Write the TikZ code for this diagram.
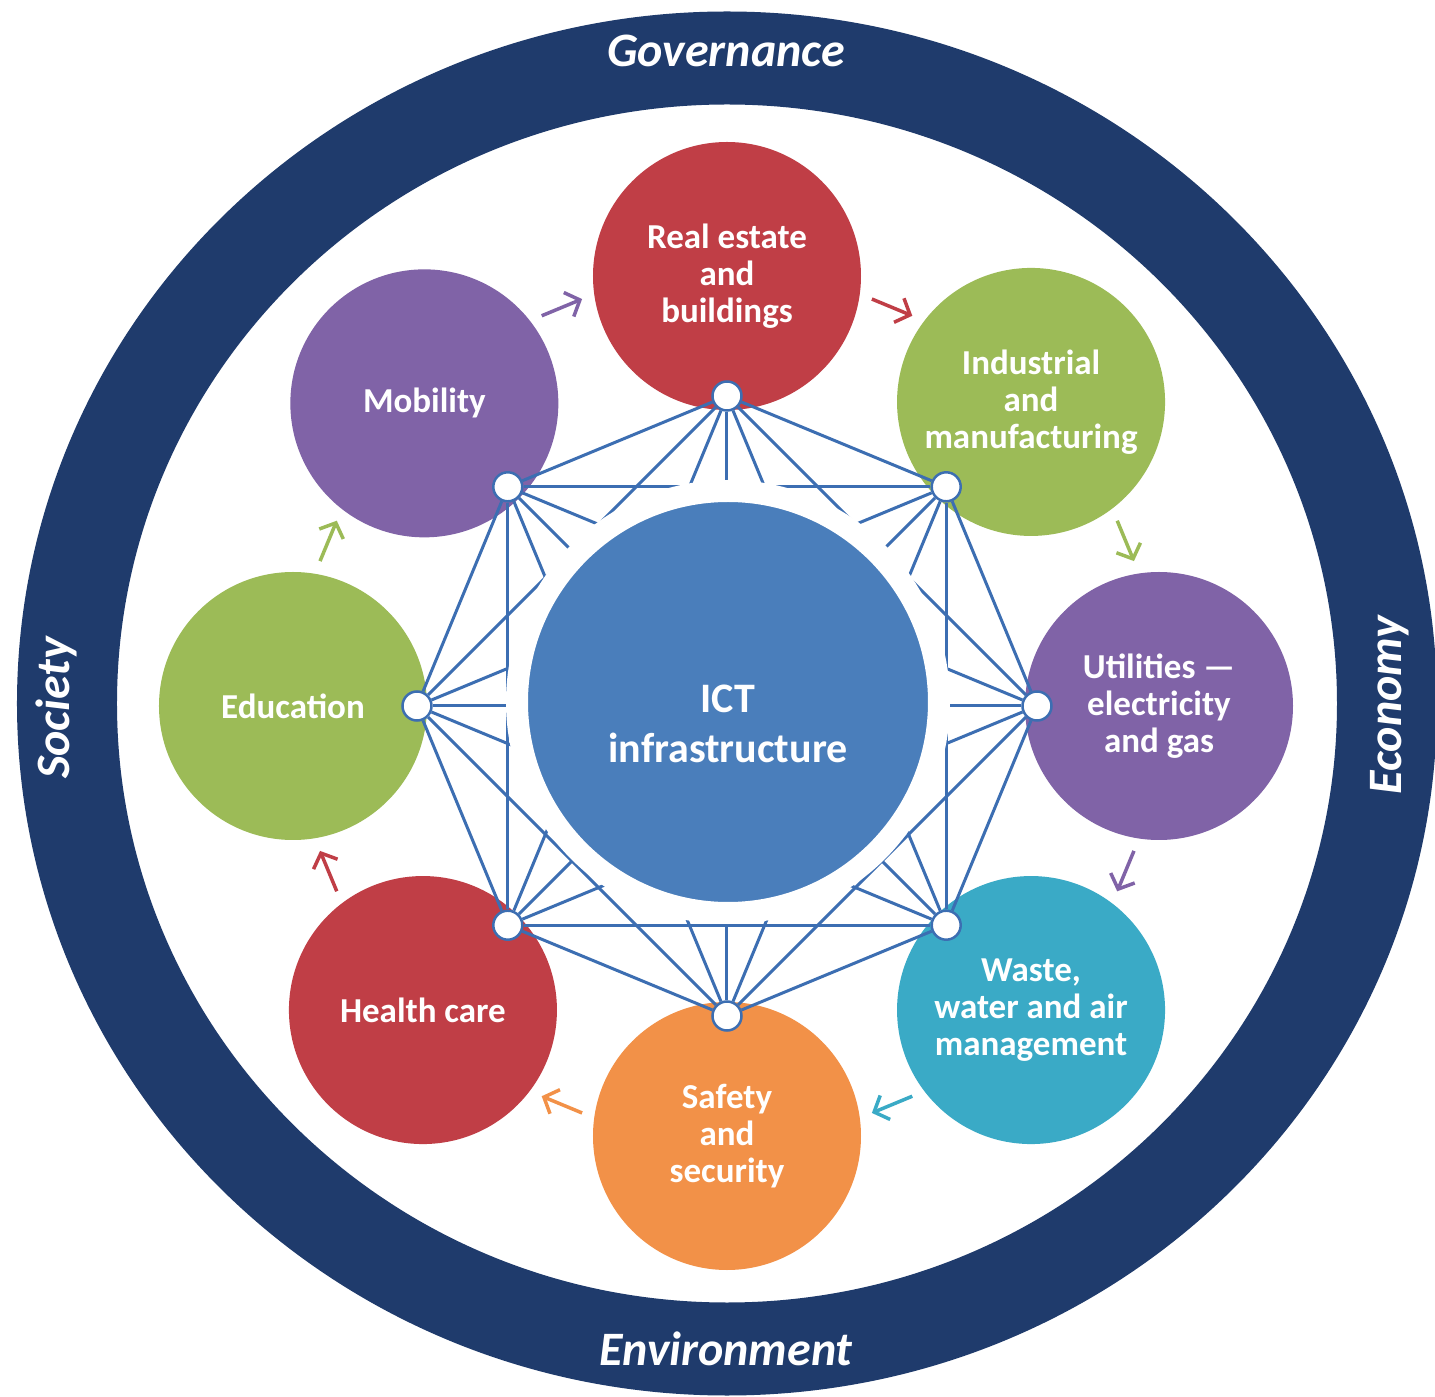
\documentclass[tikz,border=0pt]{standalone}
\usepackage{fontspec}
\setmainfont{Carlito}
\usetikzlibrary{arrows.meta}

\definecolor{ringblue}{RGB}{31,59,108}
\definecolor{hubblue}{RGB}{74,126,187}
\definecolor{linkblue}{RGB}{60,110,178}
\definecolor{bred}{RGB}{192,62,70}
\definecolor{bgreen}{RGB}{156,187,87}
\definecolor{bpurple}{RGB}{128,99,167}
\definecolor{bteal}{RGB}{58,170,198}
\definecolor{borange}{RGB}{242,145,72}

\begin{document}
\begin{tikzpicture}[x = 1pt, y = 1pt,
  sector/.style = {circle, fill=#1, minimum size=268pt, inner sep=0pt, text=white, align=center, font=\fontsize{35}{37}\selectfont\bfseries},
  hub/.style = {circle, fill=hubblue, draw=white, line width=22pt, minimum size=422pt},
  hubtext/.style = {text=white, align=center, font=\fontsize{42}{50}\selectfont\bfseries},
  joint/.style = {circle, fill=white, draw=linkblue, line width=2.5pt, minimum size=29pt, inner sep=0pt},
  link/.style = {draw=linkblue, line width=3pt},
  flow/.style = {draw=#1, line width=3.5pt, -{Straight Barb[length=12pt, width=26pt]}},
  pillar/.style = {text=white, font=\fontsize{48}{50}\selectfont\bfseries\itshape}]
\path[fill=white, use as bounding box] (-727,-691) rectangle (708,706);

\fill[ringblue, even odd rule] (0,2.5) ellipse [x radius=710, y radius=692] (0,2.5) ellipse [x radius=610, y radius=599];
\node[pillar] (GOV) at (-1,655) {Governance};
\node[pillar] (ENV) at (-1,-643) {Environment};
\node[pillar, rotate=90] (SOC) at (-671,-2) {Society};
\node[pillar, rotate=90] (ECO) at (663,1) {Economy};

\node[sector=bred] (RE) at (90:430) {Real estate\\and\\buildings};
\node[sector=bgreen] (IND) at (45:430) {Industrial\\and\\manufacturing};
\node[sector=bpurple] (UTL) at (0:432) {Utilities —\\electricity\\and gas};
\node[sector=bteal] (WST) at (-45:430) {Waste,\\water and air\\management};
\node[sector=borange] (SAF) at (-90:430) {Safety\\and\\security};
\node[sector=bred] (HLT) at (-135:430) {Health care};
\node[sector=bgreen] (EDU) at (180:434) {Education};
\node[sector=bpurple] (MOB) at (135:428) {Mobility};

\foreach \i in {0,...,7} \node[joint] (N\i) at ({45*\i}:310) {};
\foreach \i in {0,...,6} {
  \pgfmathtruncatemacro\nxt{\i+1}
  \foreach \j in {\nxt,...,7} \draw[link] (N\i) -- (N\j);
}

\node[hub] (ICT) at (1,4) {};
\node[hubtext] (ICTT) at ([yshift=-22pt]ICT.center) {ICT\\infrastructure};

\foreach \a/\c in {112.5/bpurple, 67.5/bred, 22.5/bgreen, -22.5/bpurple, -67.5/bteal, -112.5/borange, -157.5/bred, 157.5/bgreen}
  \draw[flow=\c] ({\a+2.9}:432) -- ({\a-2.9}:432);
\end{tikzpicture}
\end{document}
